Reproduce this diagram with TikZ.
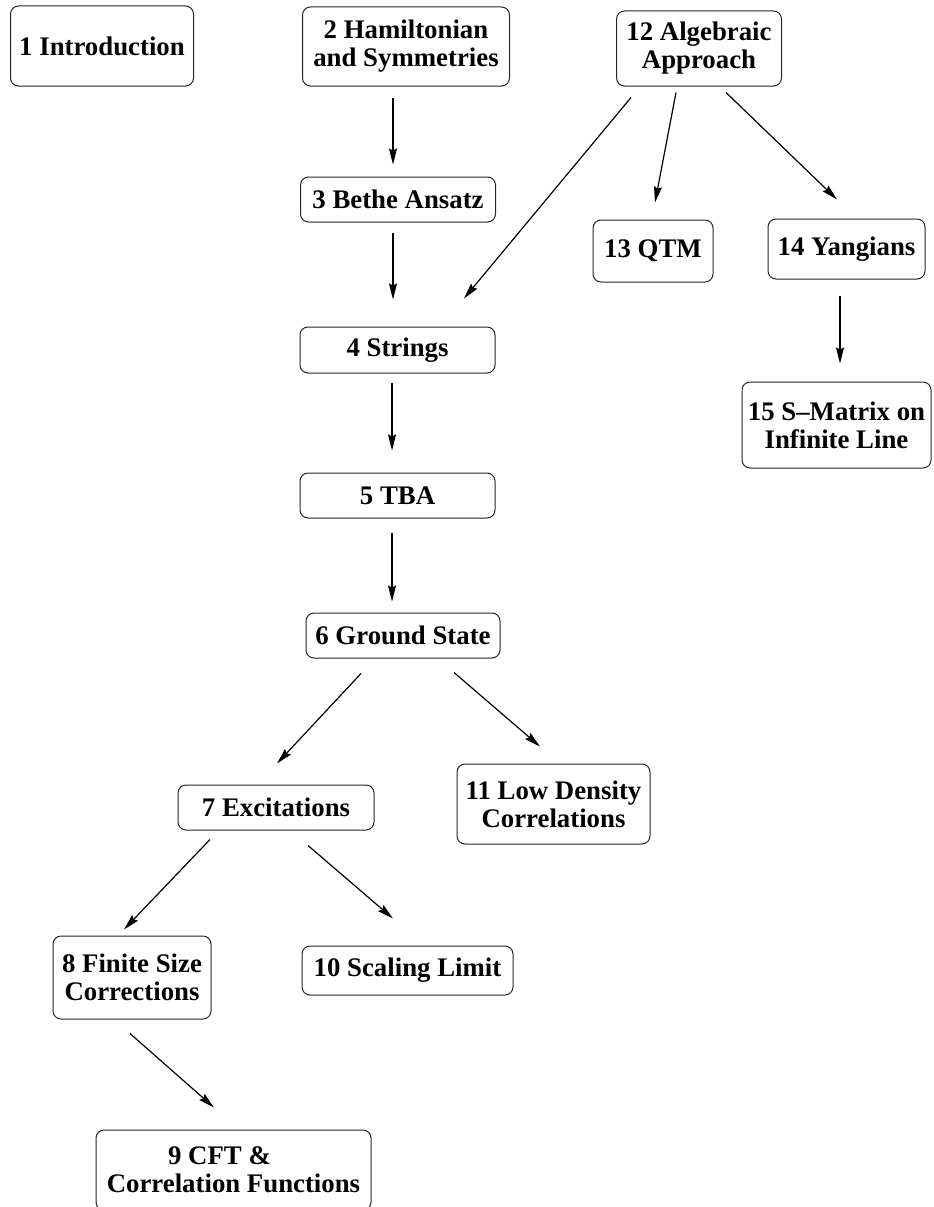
\documentclass[tikz,border=0pt]{standalone}
\usepackage{fontspec}
\setmainfont{Liberation Serif}
\usetikzlibrary{arrows.meta,calc}

\tikzset{
  chap/.style={draw=black!85, line width=1pt, rounded corners=8pt, align=center,
    inner sep=0pt, font=\fontsize{26.8}{28}\selectfont\bfseries},
  arr/.style={line width=1.2pt, -{Stealth[length=16pt,width=8pt,inset=2pt]}}
}

\begin{document}
\begin{tikzpicture}[x=1pt, y=-1pt]
    \useasboundingbox (0,0) rectangle (934,1207);

    % Draw nodes for the top row
    \node[chap, minimum width=183pt, minimum height=80pt] (n1) at (102, 46) {1 Introduction};
    \node[chap, minimum width=207pt, minimum height=79pt] (n2) at (406, 46.5) {2 Hamiltonian\\and Symmetries};
    \node[chap, minimum width=165pt, minimum height=75pt] (n12) at (699, 48.5) {12 Algebraic\\Approach};

    % Draw nodes for the main column
    \node[chap, minimum width=195pt, minimum height=45pt] (n3) at (398, 199.5) {3 Bethe Ansatz};
    \node[chap, minimum width=195pt, minimum height=46pt] (n4) at (397.5, 350) {4 Strings};
    \node[chap, minimum width=195pt, minimum height=45pt] (n5) at (397.5, 495.5) {5 TBA};
    \node[chap, minimum width=194pt, minimum height=45pt] (n6) at (403, 635.5) {6 Ground State};

    % Draw nodes for the algebraic branch
    \node[chap, minimum width=120pt, minimum height=62pt] (n13) at (653, 251) {13 QTM};
    \node[chap, minimum width=157pt, minimum height=60pt] (n14) at (846.5, 249) {14 Yangians};
    \node[chap, minimum width=189pt, minimum height=86pt] (n15) at (836.5, 425) {15 S--Matrix on\\Infinite Line};

    % Draw nodes for the lower branches
    \node[chap, minimum width=196pt, minimum height=45pt] (n7) at (276, 807.5) {7 Excitations};
    \node[chap, minimum width=193pt, minimum height=80pt] (n11) at (553.5, 804) {11 Low Density\\Correlations};
    \node[chap, minimum width=158pt, minimum height=83pt] (n8) at (132, 977.5) {8 Finite Size\\Corrections};
    \node[chap, minimum width=211pt, minimum height=49pt] (n10) at (407.5, 970.5) {10 Scaling Limit};
    \node[chap, minimum width=275pt, minimum height=80pt] (n9) at (233.5, 1170) {9 CFT \&\hspace*{28pt}\\Correlation Functions};

    % Draw edges between chapters
    \draw[arr] ($(n2.south)+(-13,11)$) -- ($(n3.north)+(-5,-12)$);
    \draw[arr] ($(n3.south)+(-5,10)$) -- ($(n4.north)+(-4.5,-27)$);
    \draw[arr] ($(n12.south)+(-68,11)$) -- ($(n4.north)+(66.5,-28)$);
    \draw[arr] ($(n12.south)+(-23,6)$) -- ($(n13.north)+(2,-17)$);
    \draw[arr] ($(n12.south)+(27,6)$) -- ($(n14.north)+(-9.5,-19)$);
    \draw[arr] ($(n14.south)+(-6.5,16)$) -- ($(n15.north)+(3.5,-18)$);
    \draw[arr] ($(n4.south)+(-5.5,9)$) -- ($(n5.north)+(-5.5,-22)$);
    \draw[arr] ($(n5.south)+(-5.5,14)$) -- ($(n6.north)+(-11,-11)$);
    \draw[arr] ($(n6.south)+(-42,15)$) -- ($(n7.north)+(1,-21)$);
    \draw[arr] ($(n6.south)+(51,14)$) -- ($(n11.north)+(-13.5,-17)$);
    \draw[arr] ($(n7.south)+(-66,9)$) -- ($(n8.north)+(-8,-6)$);
    \draw[arr] ($(n7.south)+(32,15)$) -- ($(n10.north)+(-14.5,-27)$);
    \draw[arr] ($(n8.south)+(-2,14)$) -- ($(n9.north)+(-19.5,-22)$);
\end{tikzpicture}
\end{document}
